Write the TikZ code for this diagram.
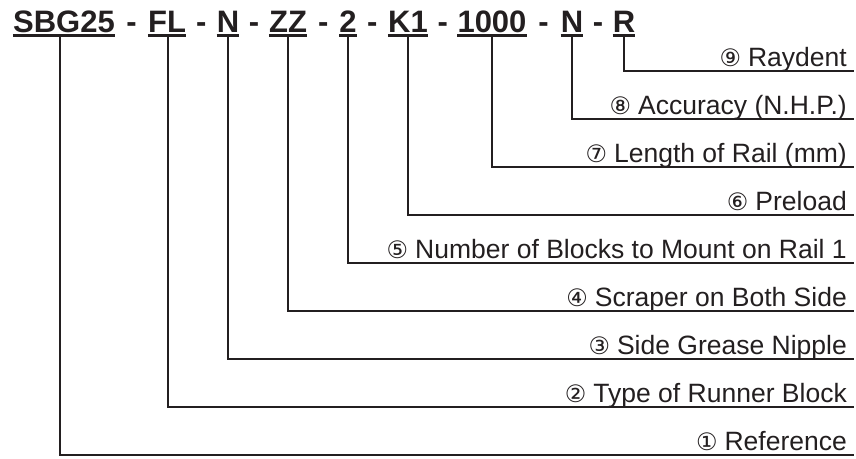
\documentclass[tikz,border=0pt]{standalone}
\usepackage{fontspec}
\setmainfont{Liberation Sans}
\newfontfamily\circfont{DejaVu Sans}
\usetikzlibrary{calc}
\definecolor{ink}{HTML}{231F20}
\begin{document}
\begin{tikzpicture}[x=1pt,y=1pt,
  tok/.style={inner sep=0pt, anchor=base, text=ink, font=\fontsize{31}{31}\selectfont\bfseries},
  lab/.style={inner sep=0pt, anchor=base east, text=ink, font=\fontsize{26.5}{26.5}\selectfont},
  conn/.style={draw=ink, line width=2pt},
  ul/.style={draw=ink, line width=2.8pt}]
\useasboundingbox (0,0) rectangle (856,-458);
% title tokens
\foreach \i/\x/\t in {1/64/SBG25, 2/167/FL, 3/228/N, 4/288/ZZ, 5/348/2,
                      6/408/K1, 7/492/1000, 8/572/N, 9/624/R}{
  \node[tok] (t\i) at (\x,-32) {\t};
}
% dashes between tokens
\foreach \a/\b in {1/2,2/3,3/4,4/5,5/6,6/7,7/8,8/9}{
  \node[tok] (d\a) at ($(t\a.base east)!0.5!(t\b.base west)$) {-};
}
% labels, line ends, connectors
\foreach \i/\y/\dx/\c/\txt in {
  1/455/-4/①/Reference,
  2/407/1/②/Type of Runner Block,
  3/359/0/③/Side Grease Nipple,
  4/311/0/④/Scraper on Both Side,
  5/263/0/⑤/Number of Blocks to Mount on Rail 1,
  6/215/0/⑥/Preload,
  7/167/0/⑦/Length of Rail (mm),
  8/119/0/⑧/Accuracy (N.H.P.),
  9/71/0/⑨/Raydent}{
  \coordinate (c\i) at (854,-\y);
  \node[lab] (l\i) at (847,-\y+5) {{\circfont\fontsize{24}{24}\selectfont\c}\hspace{7pt}\txt};
  \draw[ul] ([yshift=-3.5pt]t\i.base west) -- ([yshift=-3.5pt]t\i.base east);
  \draw[conn] ([xshift=\dx pt,yshift=-3.5pt]t\i.base) |- (c\i);
}
\end{tikzpicture}
\end{document}
